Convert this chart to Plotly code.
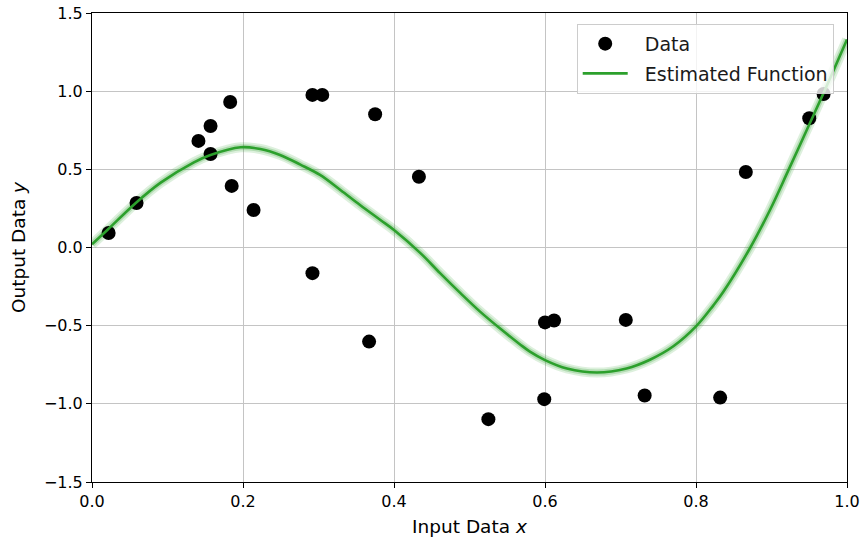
import plotly.graph_objects as go

# Observed samples
data_x = [0.022, 0.059, 0.141, 0.157, 0.157, 0.183, 0.185, 0.214, 0.292, 0.305,
          0.292, 0.375, 0.367, 0.433, 0.525, 0.600, 0.612, 0.599, 0.707, 0.732,
          0.832, 0.866, 0.950, 0.969]
data_y = [0.093, 0.285, 0.682, 0.777, 0.598, 0.931, 0.394, 0.240, 0.976, 0.976,
          -0.164, 0.852, -0.602, 0.453, -1.098, -0.479, -0.467, -0.970, -0.463, -0.947,
          -0.960, 0.483, 0.827, 0.982]

# Estimated function sampled along the input range
curve_x = [0.000, 0.021, 0.058, 0.091, 0.135, 0.156, 0.197, 0.223, 0.249, 0.276,
           0.302, 0.329, 0.355, 0.382, 0.400, 0.435, 0.461, 0.488, 0.514, 0.541,
           0.567, 0.580, 0.600, 0.629, 0.669, 0.708, 0.739, 0.770, 0.800, 0.823,
           0.836, 0.872, 0.898, 0.922, 0.947, 0.971, 1.000]
curve_y = [0.020, 0.115, 0.285, 0.415, 0.545, 0.590, 0.641, 0.630, 0.592, 0.530,
           0.464, 0.368, 0.272, 0.176, 0.112, -0.036, -0.164, -0.292, -0.410, -0.520,
           -0.620, -0.666, -0.720, -0.774, -0.800, -0.774, -0.718, -0.632, -0.505, -0.370,
           -0.285, 0.000, 0.240, 0.490, 0.755, 1.010, 1.330]

x_ticks = [0.0, 0.2, 0.4, 0.6, 0.8, 1.0]
y_ticks = [-1.5, -1.0, -0.5, 0.0, 0.5, 1.0, 1.5]

GREEN = "#2ca02c"
FONT = "DejaVu Sans"
PAD = "\u00a0\u00a0"

fig = go.Figure()

# soft uncertainty band around the estimate
for width, alpha in [(10, 0.16), (6, 0.24)]:
    fig.add_trace(go.Scatter(
        x=curve_x, y=curve_y, mode="lines",
        line=dict(color=f"rgba(44,160,44,{alpha})", width=width, shape="spline", smoothing=1.0),
        hoverinfo="skip", showlegend=False,
    ))

fig.add_trace(go.Scatter(
    x=data_x, y=data_y, mode="markers", name=PAD + "Data",
    marker=dict(color="black", size=14, line=dict(width=0)),
    legendgroup="a",
))

fig.add_trace(go.Scatter(
    x=curve_x, y=curve_y, mode="lines", name=PAD + "Estimated Function",
    line=dict(color=GREEN, width=2.6, shape="spline", smoothing=1.0),
    legendgroup="b",
))

axis_common = dict(
    showline=True, linecolor="black", linewidth=1, mirror=True,
    ticks="outside", ticklen=5, tickcolor="black", tickwidth=1,
    showgrid=True, gridcolor="#c4c4c4", gridwidth=1,
    zeroline=False, tickformat=".1f", automargin=False,
    tickfont=dict(family=FONT, size=16, color="black"),
)
title_font = dict(family=FONT, size=18.5, color="black")

fig.update_xaxes(range=[0, 1], tickvals=x_ticks,
                 title=dict(text="Input Data <i>x</i>", font=title_font, standoff=9),
                 **axis_common)
fig.update_yaxes(range=[-1.5, 1.5], tickvals=y_ticks,
                 title=dict(text="Output Data <i>y</i>", font=title_font, standoff=13),
                 **axis_common)

fig.update_layout(
    width=863, height=546,
    margin=dict(l=92, r=16, t=13, b=64),
    plot_bgcolor="white", paper_bgcolor="white",
    font=dict(family=FONT, size=16, color="black"),
    legend=dict(
        x=0.642, y=0.977, xanchor="left", yanchor="top",
        bgcolor="rgba(255,255,255,0.8)", bordercolor="#cccccc", borderwidth=1,
        font=dict(family=FONT, size=19, color="#1a1a1a"),
        itemwidth=45, tracegroupgap=2,
    ),
)

fig.write_html("out.html")
